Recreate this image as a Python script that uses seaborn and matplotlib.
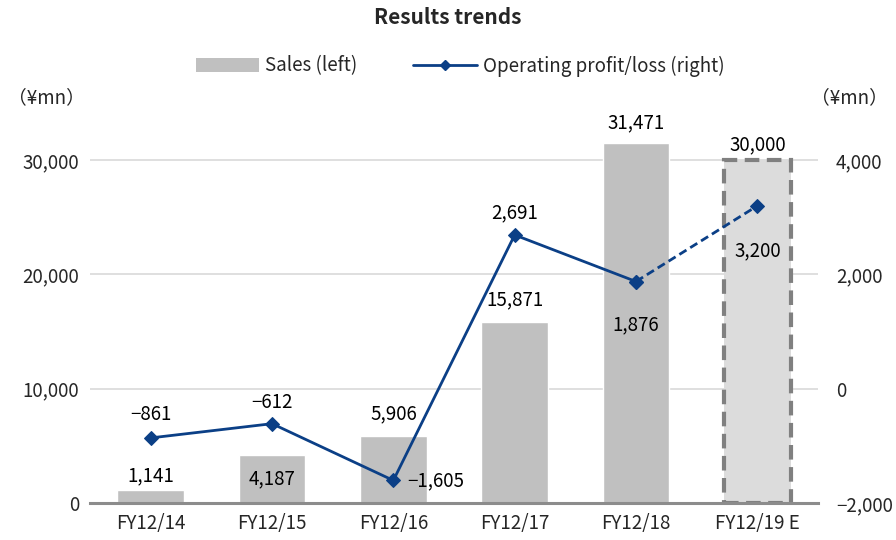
import matplotlib
matplotlib.use("Agg")
import matplotlib.pyplot as plt
import seaborn as sns
import pandas as pd
from matplotlib.patches import Patch
from matplotlib.lines import Line2D

categories = ["FY12/14", "FY12/15", "FY12/16", "FY12/17", "FY12/18", "FY12/19 E"]
sales = [1141, 4187, 5906, 15871, 31471, 30000]
op_profit = [-861, -612, -1605, 2691, 1876, 3200]
left_ticks = [0, 10000, 20000, 30000]
right_ticks = [-2000, 0, 2000, 4000]

sns.set_theme(style="white")
plt.rcParams['font.family'] = ['Noto Sans CJK JP', 'DejaVu Sans']

FS = 13.5
BAR = "#c0c0c0"
BAR_E = "#dcdcdc"
EDGE_E = "#808080"
LINE = "#0b3f86"
AXIS = "#8c8c8c"
GRID = "#d9d9d9"

fig = plt.figure(figsize=(8.96, 5.4), dpi=100)
ax = fig.add_axes([90/896, 37/540, 728/896, 400/540])

df = pd.DataFrame({"cat": categories, "sales": sales})
palette = [BAR]*5 + [BAR_E]
sns.barplot(data=df, x="cat", y="sales", hue="cat", palette=palette, legend=False,
            width=0.55, ax=ax, saturation=1)
# forecast bar border
forecast = ax.patches[-1]
forecast.set_edgecolor(EDGE_E)
forecast.set_linewidth(3)
forecast.set_linestyle((0, (3.5, 1.8)))

ax.set_ylim(0, 35000)
ax.set_xlim(-0.5, 5.5)
ax.set_yticks(left_ticks)
ax.set_yticklabels([f"{v:,}" for v in left_ticks], fontsize=FS)
ax.yaxis.grid(True, color=GRID, linewidth=1.2)
ax.set_axisbelow(True)
for s in ["top", "left", "right"]:
    ax.spines[s].set_visible(False)
ax.spines["bottom"].set_color(AXIS)
ax.spines["bottom"].set_linewidth(2.2)
ax.set_xlabel("")
ax.set_ylabel("")
ax.set_xticks(range(len(categories)))
ax.set_xticklabels(categories, fontsize=FS)
ax.set_xticks([i - 0.5 for i in range(len(categories) + 1)], minor=True)
ax.tick_params(axis="x", which="major", length=0, pad=7)
ax.tick_params(axis="x", which="minor", length=6, width=2, color=AXIS, direction="out")
ax.tick_params(axis="y", length=0, pad=8)

# sales labels
sales_off = [14, -24, 22, 22, 21, 15]
for i, v in enumerate(sales):
    ax.annotate(f"{v:,}", (i, v), xytext=(0, sales_off[i]), textcoords="offset pixels",
                ha="center", va="center", fontsize=FS, color="#000000")

ax2 = ax.twinx()
ax2.set_ylim(-2000, 5000)
ldf = pd.DataFrame({"x": list(range(len(categories))), "op": op_profit})
sns.lineplot(data=ldf.iloc[:5], x="x", y="op", ax=ax2, color=LINE, linewidth=2,
             marker="D", markersize=7, markeredgecolor=LINE)
sns.lineplot(data=ldf.iloc[4:], x="x", y="op", ax=ax2, color=LINE, linewidth=2,
             linestyle=(0, (3, 1.6)), marker="D", markersize=7, markeredgecolor=LINE)
ax2.set_xlim(-0.5, 5.5)
ax2.set_yticks(right_ticks)
ax2.set_yticklabels([f"{v:,}".replace("-", "\u2212") for v in right_ticks], fontsize=FS)
ax2.tick_params(axis="y", length=0, pad=13)
ax2.set_xlabel("")
ax2.set_ylabel("")
for s in ["top", "left", "right", "bottom"]:
    ax2.spines[s].set_visible(False)
ax2.grid(False)

op_off = [(0, 23), (0, 21), (42, 0), (0, 22), (0, -43), (0, -45)]
for i, v in enumerate(op_profit):
    ax2.annotate(f"{v:,}".replace("-", "\u2212"), (i, v), xytext=op_off[i],
                 textcoords="offset pixels", ha="center", va="center", fontsize=FS,
                 color="#000000")

fig.text(448/896, 1 - 18/540, "Results trends", ha="center", va="center",
         fontsize=15, fontweight="bold")
fig.text(8/896, 1 - 98/540, "（¥mn）", ha="left", va="center", fontsize=FS)
fig.text(888/896, 1 - 98/540, "（¥mn）", ha="right", va="center", fontsize=FS)

handles = [Patch(facecolor=BAR, edgecolor="none"),
           Line2D([0], [0], color=LINE, linewidth=2, marker="D", markersize=5)]
fig.legend(handles, ["Sales (left)", "Operating profit/loss (right)"],
           loc="center", bbox_to_anchor=(460/896, 1 - 66/540), ncol=2,
           frameon=False, fontsize=FS, handlelength=3.4, handleheight=0.7,
           columnspacing=3.0, handletextpad=0.3)

fig.savefig("out.png", dpi=100)
